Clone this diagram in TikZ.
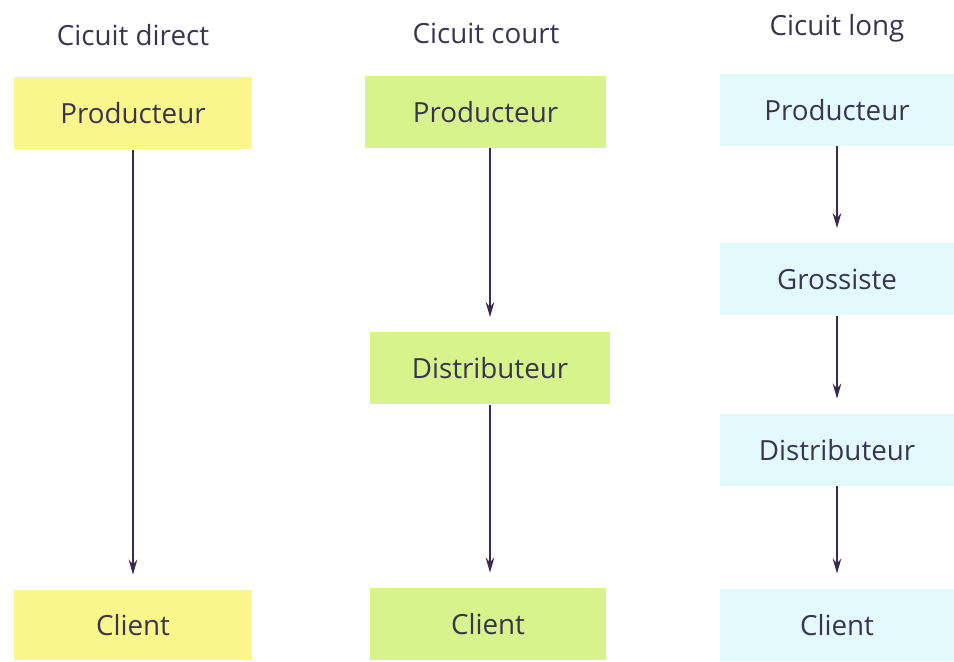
\documentclass[tikz,border=0pt]{standalone}
\usepackage{fontspec}
\setmainfont{Open Sans}
\usetikzlibrary{arrows.meta,positioning}
\definecolor{lemon}{RGB}{249,246,140}
\definecolor{lime}{RGB}{214,243,140}
\definecolor{ice}{RGB}{226,250,252}
\definecolor{ink}{RGB}{58,52,80}
\definecolor{plum}{RGB}{62,42,78}
\tikzset{
  >={Stealth[length=3mm,width=1.7mm]},
  stage/.style={fill=#1,text=ink,minimum width=4.76cm,minimum height=1.44cm,
    font=\fontsize{15.8}{18}\selectfont},
  stage/.default=lemon,
  title/.style={text=ink,font=\fontsize{15.8}{18}\selectfont},
  flow/.style={->,line width=1.4pt,draw=plum,shorten >=0.3cm},
}
\begin{document}
\begin{tikzpicture}
  \useasboundingbox (0,0) rectangle (19.08,13.22);
  % titles
  \node[title] (tdirect) at (2.66,12.52) {Cicuit direct};
  \node[title] (tcourt) at (9.72,12.56) {Cicuit court};
  \node[title] (tlong) at (16.74,12.66) {Cicuit long};
  % circuit direct
  \node[stage=lemon] (dprod) at (2.66,10.95) {Producteur};
  \node[stage=lemon,minimum height=1.4cm] (dcli) at (2.66,0.72) {Client};
  \draw[flow] (dprod) -- (dcli);
  % circuit court
  \node[stage=lime,minimum width=4.82cm] (cprod) at (9.71,10.98) {Producteur};
  \node[stage=lime,minimum width=4.8cm] (cdist) at (9.8,5.85) {Distributeur};
  \node[stage=lime,minimum width=4.72cm] (ccli) at (9.76,0.74) {Client};
  \draw[flow] (cprod.south -| cdist) -- (cdist);
  \draw[flow] (cdist) -- (cdist |- ccli.north);
  % circuit long
  \node[stage=ice,minimum width=4.68cm] (lprod) at (16.74,11.02) {Producteur};
  \node[stage=ice,minimum width=4.68cm] (lgros) at (16.74,7.63) {Grossiste};
  \node[stage=ice,minimum width=4.68cm] (ldist) at (16.74,4.22) {Distributeur};
  \node[stage=ice,minimum width=4.68cm] (lcli) at (16.74,0.72) {Client};
  \draw[flow] (lprod) -- (lgros);
  \draw[flow] (lgros) -- (ldist);
  \draw[flow] (ldist) -- (lcli);
\end{tikzpicture}
\end{document}
